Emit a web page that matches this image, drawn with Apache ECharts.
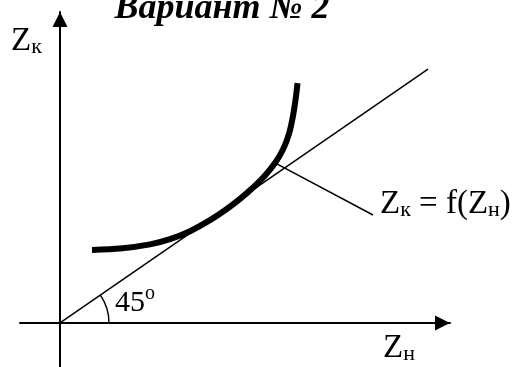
<!DOCTYPE html>
<html>
<head>
<meta charset="utf-8">
<script src="https://cdn.jsdelivr.net/npm/echarts@6/dist/echarts.min.js"></script>
<style>
  html, body { margin: 0; padding: 0; background: #fff; }
  #chart { width: 525px; height: 367px; }
</style>
</head>
<body>
<div id="chart"></div>
<script>
// Characteristic curve Zк = f(Zн)
const curveZn = [0.32, 0.60, 0.90, 1.10, 1.30, 1.50, 1.65, 1.80, 1.95, 2.05, 2.15, 2.23, 2.29, 2.33, 2.36, 2.375];
const curveZk = [1.058, 1.078, 1.139, 1.214, 1.330, 1.490, 1.633, 1.799, 1.990, 2.138, 2.319, 2.516, 2.742, 3.003, 3.286, 3.478];

// Bisector Zк = Zн (45° line)
const diagZn = [0, 3.68];
const diagZk = [0, 3.68];

// Leader from the curve to its caption
const leaderZn = [2.15, 3.13];
const leaderZk = [2.32, 1.565];

const titleText = 'Вариант № 2';
const angleText = '45';

const toPairs = (xs, ys) => xs.map((x, i) => [x, ys[i]]);

const serif = '"Liberation Serif", "Times New Roman", serif';
const ink = '#000';

const chart = echarts.init(document.getElementById('chart'), null, { renderer: 'canvas' });

const axisCommon = {
  type: 'value',
  axisLabel: { show: false },
  axisTick: { show: false },
  splitLine: { show: false },
  axisLine: {
    show: true,
    onZero: true,
    symbol: ['none', 'triangle'],
    symbolSize: [15, 15],
    symbolOffset: [0, -7.5],
    lineStyle: { color: ink, width: 2 }
  }
};

const big = { fontFamily: serif, fontSize: 33, fill: ink, lineHeight: 34, verticalAlign: 'bottom' };
const sub = { fontFamily: serif, fontSize: 22, fill: ink, lineHeight: 8, verticalAlign: 'bottom' };

chart.setOption({
  animation: false,
  backgroundColor: '#fff',
  grid: { left: 20, right: 75, top: 12, bottom: 0 },
  xAxis: Object.assign({}, axisCommon, { min: -0.4, max: 3.9 }),
  yAxis: Object.assign({}, axisCommon, { min: -0.64, max: 4.51 }),
  series: [
    {
      type: 'line',
      data: toPairs(diagZn, diagZk),
      symbol: 'none',
      lineStyle: { color: ink, width: 1.5 },
      z: 2
    },
    {
      type: 'line',
      data: toPairs(curveZn, curveZk),
      smooth: 0.25,
      symbol: 'none',
      lineStyle: { color: ink, width: 6, cap: 'butt', join: 'round' },
      z: 3
    },
    {
      type: 'line',
      data: toPairs(leaderZn, leaderZk),
      symbol: 'none',
      lineStyle: { color: ink, width: 1.5 },
      z: 2
    },
    {
      // angle arc between the Zн axis and the bisector
      type: 'custom',
      data: [[0, 0]],
      z: 2,
      renderItem: function (params, api) {
        const c = api.coord([0, 0]);
        const p = api.coord([diagZn[1], diagZk[1]]);
        const ang = Math.atan2(p[1] - c[1], p[0] - c[0]);
        return {
          type: 'arc',
          shape: { cx: c[0], cy: c[1], r: 49, startAngle: ang, endAngle: 0, clockwise: true },
          style: { stroke: ink, lineWidth: 1.5, fill: null }
        };
      }
    }
  ],
  graphic: [
    {
      type: 'text',
      style: {
        text: titleText,
        x: 222, y: 27,
        fontFamily: serif,
        fontSize: 36,
        fontStyle: 'italic',
        fontWeight: 'bold',
        fill: ink,
        textAlign: 'center',
        textVerticalAlign: 'bottom'
      }
    },
    {
      type: 'text',
      style: {
        text: '{z|Z}{s|к}',
        x: 11, y: 58,
        textVerticalAlign: 'bottom',
        rich: { z: big, s: sub }
      }
    },
    {
      type: 'text',
      style: {
        text: '{z|Z}{s|н}',
        x: 383, y: 365,
        textVerticalAlign: 'bottom',
        rich: { z: big, s: sub }
      }
    },
    {
      type: 'text',
      style: {
        text: '{z|Z}{s|к}{z| = f(Z}{s|н}{z|)}',
        x: 380, y: 221,
        textVerticalAlign: 'bottom',
        rich: { z: big, s: sub }
      }
    },
    {
      type: 'text',
      style: {
        text: '{z|' + angleText + '}{o|o}',
        x: 115, y: 318,
        textVerticalAlign: 'bottom',
        rich: {
          z: { fontFamily: serif, fontSize: 30, fill: ink, lineHeight: 34, verticalAlign: 'bottom' },
          o: { fontFamily: serif, fontSize: 20, fill: ink, lineHeight: 12, verticalAlign: 'top' }
        }
      }
    }
  ]
});
</script>
</body>
</html>
